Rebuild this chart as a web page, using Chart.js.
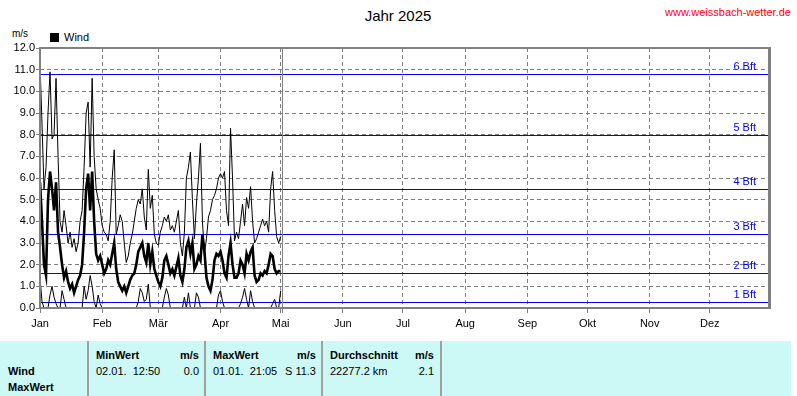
<!DOCTYPE html>
<html><head><meta charset="utf-8">
<script src="https://cdn.jsdelivr.net/npm/chart.js@4/dist/chart.umd.min.js"></script>
<style>
body{margin:0;width:797px;height:396px;position:relative;overflow:hidden;background:#fff;font-family:"Liberation Sans",Arial,sans-serif;color:#000;}
.t{position:absolute;font-size:11px;line-height:13px;white-space:nowrap;}
.b{font-weight:bold;}
.r{text-align:right;}
#title{position:absolute;left:298px;width:200px;top:7px;text-align:center;font-size:15px;line-height:18px;}
#url{position:absolute;left:665px;top:5px;font-size:11px;line-height:14px;color:#ff0000;}
#unit{position:absolute;left:12px;top:28px;font-size:10px;line-height:12px;}
#sw{position:absolute;left:50px;top:33px;width:9px;height:9px;background:#000;}
#leg{position:absolute;left:64px;top:31px;font-size:11px;line-height:13px;}
#c{position:absolute;left:0;top:0;}
#tbl{position:absolute;left:0;top:341px;width:791px;height:55px;background:#ccf8f6;}
.sep{position:absolute;top:341px;height:55px;width:2px;background:#a0a0a0;}
</style></head><body>
<div id="title">Jahr 2025</div>
<div id="url">www.weissbach-wetter.de</div>
<div id="unit">m/s</div>
<div id="sw"></div><div id="leg">Wind</div>
<canvas id="c" width="797" height="340"></canvas>
<div id="tbl"></div>
<div class="sep" style="left:87px"></div>
<div class="sep" style="left:204px"></div>
<div class="sep" style="left:321px"></div>
<div class="sep" style="left:440px"></div>
<div class="t b" style="left:8px;top:365px">Wind</div>
<div class="t b" style="left:8px;top:381px">MaxWert</div>
<div class="t b" style="left:96px;top:349px">MinWert</div>
<div class="t b r" style="left:150px;width:49px;top:349px">m/s</div>
<div class="t" style="left:96px;top:365px">02.01.&nbsp; 12:50</div>
<div class="t r" style="left:150px;width:49px;top:365px">0.0</div>
<div class="t b" style="left:213px;top:349px">MaxWert</div>
<div class="t b r" style="left:266px;width:50px;top:349px">m/s</div>
<div class="t" style="left:213px;top:365px">01.01.&nbsp; 21:05</div>
<div class="t r" style="left:256px;width:60px;top:365px">S 11.3</div>
<div class="t b" style="left:330px;top:349px">Durchschnitt</div>
<div class="t b r" style="left:404px;width:30px;top:349px">m/s</div>
<div class="t" style="left:330px;top:365px">22277.2 km</div>
<div class="t r" style="left:404px;width:30px;top:365px">2.1</div>
<script>
const months = ["Jan","Feb","Mär","Apr","Mai","Jun","Jul","Aug","Sep","Okt","Nov","Dez"];
const monthStartDays = [0,31,59,90,120,151,181,212,243,273,304,334];
const bftLimits = [0.3,1.6,3.4,5.5,8.0,10.8];
const bftLabels = ["1 Bft","2 Bft","3 Bft","4 Bft","5 Bft","6 Bft"];
const currentDay = 120.5;

// daily maximum wind (m/s), Jan 1 .. May 1
const windMax = [11.3,8.5,5.5,6.5,9.0,10.9,7.8,8.0,10.6,7.0,
 4.0,3.5,4.5,3.8,3.0,3.5,2.8,3.2,2.6,3.0,
 4.0,4.5,6.5,9.0,9.5,6.5,10.6,7.0,5.5,5.0,
 4.6,3.8,3.5,3.4,3.1,4.0,6.0,7.3,3.4,3.8,
 4.3,4.0,3.0,2.1,2.4,3.0,3.4,4.0,4.6,5.0,
 4.8,5.5,4.2,3.6,6.4,4.6,5.2,3.4,3.0,2.9,
 3.5,3.8,4.2,4.0,4.3,3.6,3.8,3.5,4.0,4.5,
 3.0,2.4,3.5,6.0,6.5,7.2,5.0,3.2,4.8,6.0,
 7.6,4.0,2.5,3.2,4.2,4.5,5.0,5.2,5.5,6.0,
 6.2,6.0,6.3,4.5,3.8,8.3,6.0,3.1,3.5,3.2,
 4.0,4.8,3.8,5.1,4.6,5.6,4.0,3.0,3.2,3.5,
 3.8,4.1,3.8,4.0,3.5,5.5,6.3,4.5,3.3,3.0,3.3];
// daily mean wind (m/s)
const windAvg = [5.8,4.0,2.0,1.5,5.0,6.3,5.5,4.5,5.8,3.5,
 2.8,2.0,1.4,1.7,1.2,0.9,1.1,0.7,1.0,1.3,
 1.5,2.0,3.5,5.5,6.2,4.5,6.3,4.0,2.5,2.2,
 2.4,2.0,1.6,1.8,2.2,2.0,2.5,3.0,1.8,1.2,
 1.0,0.8,1.0,0.7,1.0,1.3,1.5,1.6,2.0,2.6,
 2.8,3.0,2.4,2.1,3.0,2.0,2.6,1.8,1.5,1.2,
 1.0,1.4,2.2,2.4,2.0,1.6,1.8,1.5,1.9,2.3,
 1.5,1.2,1.8,2.8,3.1,2.5,3.0,1.8,2.0,2.4,
 2.2,3.4,2.6,1.4,1.0,0.8,1.3,2.2,2.5,2.4,
 2.6,2.2,1.6,1.4,2.4,3.0,2.0,1.4,1.4,1.6,
 2.2,2.0,1.6,2.5,2.2,2.6,2.8,1.5,1.2,1.3,
 1.6,1.5,1.7,1.6,2.0,2.5,2.4,1.8,1.6,1.7,1.7];
// daily minimum wind (m/s)
const windMin = [1.4,0.3,0,0,0,0.6,1.0,0.5,0.2,0,
 0,0.8,0.4,0,0,0,0,0,0,0,
 0,0,1.0,0.4,0.8,1.5,1.0,0.3,0,0.6,
 0.2,0,0,0,0,0,0,0,0,0,
 0,0,0,0,0,0,0,0,0,0.3,
 0.9,0.7,0.3,0.4,1.1,0,0,0,0,0,
 0,0,0.5,0.9,0.6,0,0,0,0,0,
 0,0,0.5,0,0.7,0,0,0,0.7,0.5,
 0,0,0,0,0,0,0,0,0,0.6,
 0.8,0.3,0,0,0,0,0,0,0,0,
 0.2,0.5,0.9,0.4,0,0.8,0.3,0,0,0,
 0,0,0,0,0,0,0.2,0.4,0,0,0.8];

const toPts = arr => arr.map((v,i)=>({x:i,y:v}));

const overlay = {
  id:'overlay',
  beforeDatasetsDraw(chart){
    const {ctx, chartArea:a, scales:{x,y}} = chart;
    ctx.save();
    ctx.strokeStyle = '#0000ff'; ctx.lineWidth = 1;
    ctx.fillStyle = '#0000ff'; ctx.font = '11px "Liberation Sans", Arial, sans-serif';
    ctx.textAlign = 'right'; ctx.textBaseline = 'middle';
    bftLimits.forEach((v,i)=>{
      const py = Math.round(y.getPixelForValue(v)) + 0.5;
      ctx.beginPath(); ctx.moveTo(a.left, py); ctx.lineTo(a.right, py); ctx.stroke();
      ctx.fillText(bftLabels[i], a.right - 12, py - 8);
    });
    const cx = Math.round(x.getPixelForValue(currentDay)) + 0.5;
    ctx.strokeStyle = '#808080';
    ctx.beginPath(); ctx.moveTo(cx, a.top); ctx.lineTo(cx, a.bottom + 5); ctx.stroke();
    ctx.restore();
  },
  afterDraw(chart){
    const {ctx, chartArea:a} = chart;
    ctx.save();
    ctx.strokeStyle = '#808080'; ctx.lineWidth = 2;
    ctx.strokeRect(a.left, a.top, a.right - a.left + 1, a.bottom - a.top);
    ctx.lineWidth = 3;
    ctx.beginPath(); ctx.moveTo(a.right + 1.5, a.top - 1); ctx.lineTo(a.right + 1.5, a.bottom + 1); ctx.stroke();
    ctx.restore();
  }
};

new Chart(document.getElementById('c'), {
  type:'line',
  data:{datasets:[
    {label:'MaxWert', data:toPts(windMax), borderColor:'#000', borderWidth:1, pointRadius:0, tension:0},
    {label:'Wind', data:toPts(windAvg), borderColor:'#000', borderWidth:2.6, pointRadius:0, tension:0},
    {label:'MinWert', data:toPts(windMin), borderColor:'#000', borderWidth:1, pointRadius:0, tension:0}
  ]},
  options:{
    responsive:false, animation:false, devicePixelRatio:1,
    layout:{padding:{top:48,right:29,left:0,bottom:0}},
    plugins:{legend:{display:false}, title:{display:false}, tooltip:{enabled:false}},
    scales:{
      x:{type:'linear', min:0, max:363,
        afterBuildTicks:s=>{s.ticks = monthStartDays.map(v=>({value:v}));},
        afterFit:s=>{s.height = 32;},
        ticks:{autoSkip:false, maxRotation:0, padding:4, color:'#000',
          font:{size:11, family:'"Liberation Sans", Arial, sans-serif'},
          callback:(v,i)=>months[i]},
        grid:{color:'#808080', lineWidth:1, tickLength:5, tickBorderDash:[]},
        border:{display:false, dash:[4,3]}
      },
      y:{min:0, max:12,
        afterFit:s=>{s.width = 40;},
        ticks:{stepSize:1, padding:1, color:'#000',
          font:{size:11, family:'"Liberation Sans", Arial, sans-serif'},
          callback:v=>v.toFixed(1)},
        grid:{color:'#808080', lineWidth:1, tickLength:4, tickBorderDash:[]},
        border:{display:false, dash:[4,3]}
      }
    }
  },
  plugins:[overlay]
});
</script>
</body></html>
